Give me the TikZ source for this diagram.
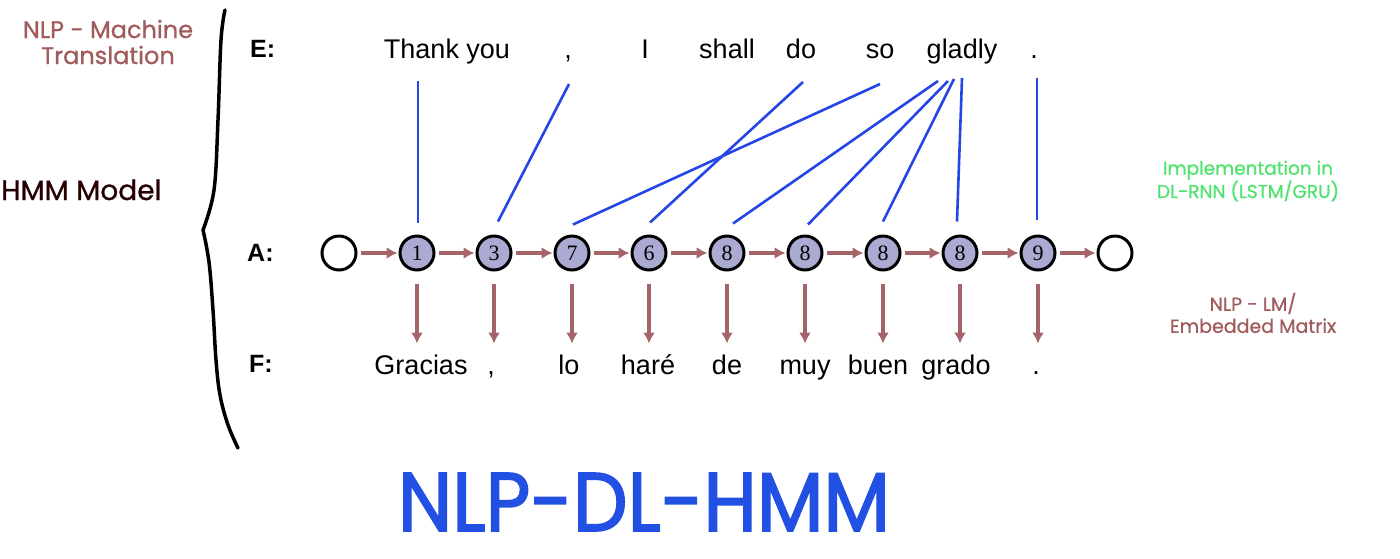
\documentclass[tikz,border=0pt]{standalone}
\usepackage{fontspec}
\setmainfont{Liberation Sans}
\newfontfamily\hand{Poppins}[FakeBold=0.8]
\newfontfamily\handt{Poppins}[FakeBold=2]
\newfontfamily\numf{Liberation Serif}
\usetikzlibrary{arrows.meta}
\definecolor{arrc}{RGB}{164,100,104}
\definecolor{lnkc}{RGB}{36,70,228}
\definecolor{fillc}{RGB}{170,170,210}
\definecolor{brnc}{RGB}{160,92,92}
\definecolor{grnc}{RGB}{80,226,110}
\definecolor{ttlc}{RGB}{34,80,226}
\begin{document}
\begin{tikzpicture}[x=1pt,y=-1pt,
  st/.style={circle,draw,line width=3pt,minimum size=34pt,inner sep=0pt,fill=fillc,font=\numf\fontsize{22}{22}\selectfont},
  endst/.style={circle,draw,line width=3pt,minimum size=34pt,inner sep=0pt,fill=white},
  wd/.style={font=\fontsize{27}{27}\selectfont,anchor=base,inner sep=0pt},
  lbl/.style={font=\bfseries\fontsize{25}{25}\selectfont,anchor=base west,inner sep=0pt},
  hnd/.style={font=\hand\fontsize{24}{26}\selectfont,align=center,inner sep=0pt},
  lnk/.style={draw=lnkc,line width=2.6pt},
  harr/.style={draw=arrc,line width=4pt,-{Latex[length=11pt,width=12pt]},shorten <=3pt,shorten >=1pt},
  varr/.style={draw=arrc,line width=4pt,-{Latex[length=11pt,width=12pt]}}]
\useasboundingbox (0,0) rectangle (1400,558);

% brace
\draw[line width=3.5pt,line cap=round,line join=round]
  plot[smooth,tension=0.6] coordinates {(225,10) (221,40) (218,120) (214,190) (203,230)};
\draw[line width=3.5pt,line cap=round,line join=round]
  plot[smooth,tension=0.6] coordinates {(203,230) (209,262) (213,310) (216,360) (220,395) (228,425) (238,448)};

% side labels
\node[hnd,text=brnc] (mt) at (108,42) {NLP - Machine\\Translation};
\node[hnd,text=black!85!red,font=\hand\fontsize{28}{30}\selectfont,anchor=base west] (hmm) at (1,200) {HMM Model};
\node[hnd,text=grnc,font=\hand\fontsize{18.5}{20}\selectfont] (impl) at (1248,181) {Implementation in\\DL-RNN (LSTM/GRU)};
\node[hnd,text=brnc,font=\hand\fontsize{19}{22}\selectfont] (lm) at (1253,313) {NLP - LM/\\Embedded Matrix};

% row labels
\node[lbl] (E) at (250,57) {E:};
\node[lbl] (A) at (247,261) {A:};
\node[lbl] (F) at (249,372) {F:};

% E words
\node[wd] (e1) at (447,58) {Thank you};
\node[wd] (e2) at (568,58) {,};
\node[wd] (e3) at (645,58) {I};
\node[wd] (e4) at (727,58) {shall};
\node[wd] (e5) at (801,58) {do};
\node[wd] (e6) at (880,58) {so};
\node[wd] (e7) at (962,58) {gladly};
\node[wd] (e8) at (1034,58) {.};

% F words
\node[wd] (f1) at (421,374) {Gracias};
\node[wd] (f2) at (491,374) {,};
\node[wd] (f3) at (569,374) {lo};
\node[wd] (f4) at (648,374) {haré};
\node[wd] (f5) at (727,374) {de};
\node[wd] (f6) at (805,374) {muy};
\node[wd] (f7) at (878,374) {buen};
\node[wd] (f8) at (956,374) {grado};
\node[wd] (f9) at (1036,374) {.};

% states
\node[endst] (s0) at (339,253) {};
\node[st] (a1) at (417,253) {1};
\node[st] (a3) at (494,253) {3};
\node[st] (a7) at (572,253) {7};
\node[st] (a6) at (649,253) {6};
\node[st] (a8a) at (727,253) {8};
\node[st] (a8b) at (805,253) {8};
\node[st] (a8c) at (883,253) {8};
\node[st] (a8d) at (960,253) {8};
\node[st] (a9) at (1038,253) {9};
\node[endst] (s1) at (1115,253) {};

% horizontal arrows
\foreach \p/\q in {s0/a1,a1/a3,a3/a7,a7/a6,a6/a8a,a8a/a8b,a8b/a8c,a8c/a8d,a8d/a9,a9/s1}
  \draw[harr] (\p) -- (\q);

% vertical arrows
\foreach \n in {a1,a3,a7,a6,a8a,a8b,a8c,a8d,a9}{
  \coordinate (\n-tip) at ([yshift=-72pt]\n.south);
  \draw[varr] ([yshift=-12pt]\n.south) -- (\n-tip);
}

% alignment links
\coordinate (t1) at (418,81);
\coordinate (t2) at (569,84);
\coordinate (t3) at (803,82);
\coordinate (t4) at (880,84);
\coordinate (t5) at (938,81);
\coordinate (t6) at (948,81);
\coordinate (t7) at (954,79);
\coordinate (t8) at (962,78);
\coordinate (t9) at (1037,78);
\draw[lnk] (t1) -- ([xshift=1pt,yshift=12pt]a1.north);
\draw[lnk] (t2) -- ([xshift=4pt,yshift=13pt]a3.north);
\draw[lnk] (t3) -- ([xshift=1pt,yshift=12pt]a6.north);
\draw[lnk] (t4) -- ([xshift=1pt,yshift=10pt]a7.north);
\draw[lnk] (t5) -- ([xshift=6pt,yshift=11pt]a8a.north);
\draw[lnk] (t6) -- ([xshift=3pt,yshift=10pt]a8b.north);
\draw[lnk] (t7) -- ([xshift=0pt,yshift=13pt]a8c.north);
\draw[lnk] (t8) -- ([xshift=-3pt,yshift=13pt]a8d.north);
\draw[lnk] (t9) -- ([xshift=-1pt,yshift=15pt]a9.north);

% title
\node[inner sep=0pt,anchor=base,text=ttlc] (title) at (644,531)
  {\resizebox{492pt}{58pt}{\handt NLP-DL-HMM}};
\end{tikzpicture}
\end{document}
